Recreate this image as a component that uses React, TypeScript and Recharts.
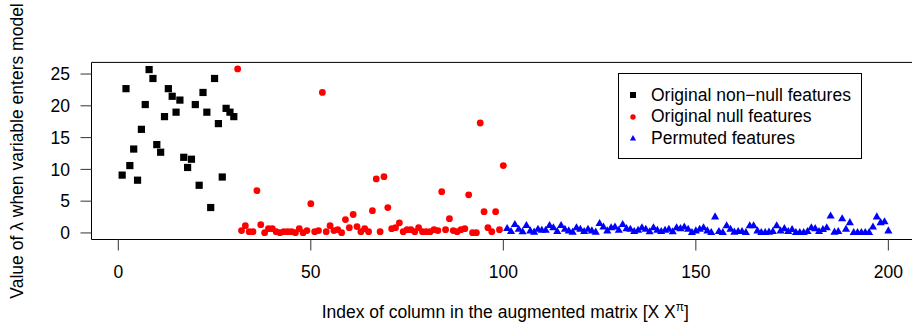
import React from 'react';
import { ScatterChart, Scatter, XAxis, YAxis, ReferenceArea, Legend, Label } from 'recharts';

// lambda at which each column enters the model, columns 1..30
const nonNullLambda = [
  9.1, 22.7, 10.6, 13.2, 8.3, 16.3, 20.2, 25.7, 24.3, 13.9,
  12.7, 18.3, 22.7, 21.5, 19.0, 20.9, 11.9, 10.3, 11.6, 20.2,
  7.5, 22.1, 19.0, 4.0, 24.3, 17.2, 8.8, 19.6, 19.0, 18.3,
];

// columns 31..100
const nullLambda = [
  25.8, 0.37, 1.15, 0.2, 0.2, 6.65, 1.3, 0.05, 0.68, 0.68,
  0.2, 0.05, 0.2, 0.2, 0.2, 0.05, 0.68, 0.05, 0.37, 4.6,
  0.2, 0.37, 22.1, 0.2, 1.15, 0.37, 0.52, 0.05, 2.1, 0.83,
  2.9, 1.0, 0.2, 0.68, 0.2, 3.5, 8.5, 0.2, 8.85, 4.0,
  0.68, 0.83, 1.6, 0.2, 0.52, 0.52, 0.2, 0.83, 0.2, 0.2,
  0.2, 0.52, 0.37, 6.5, 0.52, 2.25, 0.37, 0.2, 0.52, 0.68,
  6.0, 0.05, 0.05, 17.3, 3.35, 0.83, 0.2, 3.35, 0.52, 10.6,
];

// columns 101..200
const permutedLambda = [
  0.66, 0.2, 1.3, 0.55, 0.15, 1.15, 0.3, 0.1, 0.55, 0.4,
  0.4, 1.15, 0.8, 0.2, 1.15, 0.55, 0.3, 0.1, 0.8, 0.55,
  0.2, 0.55, 0.3, 0.1, 1.45, 0.9, 0.3, 0.8, 0.9, 0.4,
  1.3, 0.65, 0.55, 0.2, 0.4, 0.8, 0.55, 0.15, 0.8, 0.4,
  0.2, 0.4, 0.55, 0.15, 0.8, 0.65, 0.9, 0.55, 0.05, 0.3,
  0.55, 0.8, 0.3, 0.05, 2.5, 0.2, 0.05, 1.1, 0.55, 0.1,
  0.2, 0.2, 0.05, 1.1, 1.1, 0.3, 0.05, 0.05, 0.1, 0.2,
  1.1, 0.3, 0.65, 0.2, 0.5, 0.05, 0.05, 0.05, 0.2, 0.8,
  0.65, 0.2, 0.5, 0.8, 2.65, 0.1, 0.2, 2.2, 0.55, 1.6,
  0.05, 0.05, 0.05, 0.05, 0.05, 0.9, 2.5, 1.6, 1.75, 0.3,
];

const xTicks = [0, 50, 100, 150, 200];
const yTicks = [0, 5, 10, 15, 20, 25];
const xDomain = [-6.96, 207.96];
const yDomain = [-1.03, 26.83];

const seriesNames = ['Original non\u2212null features', 'Original null features', 'Permuted features'];

const FONT = '"Liberation Sans", Arial, Helvetica, sans-serif';
const FS = 17.5;

const toPoints = (values: number[], first: number) => values.map((y, i) => ({ x: first + i, y }));

const nonNullData = toPoints(nonNullLambda, 1);
const nullData = toPoints(nullLambda, nonNullLambda.length + 1);
const permutedData = toPoints(permutedLambda, nonNullLambda.length + nullLambda.length + 1);

const triPoints = (cx: number, cy: number, r: number) =>
  `${cx},${cy - r} ${cx - r * 0.866},${cy + r / 2} ${cx + r * 0.866},${cy + r / 2}`;

const SquareDot = ({ cx, cy }: any) => (
  <rect x={cx - 3.6} y={cy - 3.6} width={7.2} height={7.2} fill="#000" />
);
const RoundDot = ({ cx, cy }: any) => <circle cx={cx} cy={cy} r={3.4} fill="#ff0000" />;
const TriangleDot = ({ cx, cy }: any) => <polygon points={triPoints(cx, cy, 4.7)} fill="#0000ff" />;

const legendMarkers = [
  <rect key="s" x={2} y={2} width={6} height={6} fill="#000" />,
  <circle key="c" cx={5} cy={5} r={2.7} fill="#ff0000" />,
  <polygon key="t" points={triPoints(5, 5.6, 3.6)} fill="#0000ff" />,
];

const LegendBox = () => (
  <div
    style={{
      width: 244,
      height: 86,
      border: '1px solid #000',
      boxSizing: 'border-box',
      background: '#fff',
      position: 'relative',
      fontFamily: FONT,
      fontSize: FS,
      color: '#000',
    }}
  >
    {seriesNames.map((name, i) => (
      <div
        key={name}
        style={{
          position: 'absolute',
          left: 9,
          top: 10.5 + i * 21.5,
          height: 21,
          lineHeight: '21px',
          display: 'flex',
          alignItems: 'center',
          whiteSpace: 'nowrap',
        }}
      >
        <svg width={10} height={10} style={{ marginRight: 13 }}>
          {legendMarkers[i]}
        </svg>
        <span>{name}</span>
      </div>
    ))}
  </div>
);

const XTitle = ({ viewBox }: any) => (
  <text
    x={viewBox.x + viewBox.width / 2}
    y={viewBox.y + 78.5}
    textAnchor="middle"
    fontFamily={FONT}
    fontSize={FS}
    fill="#000"
  >
    Index of column in the augmented matrix [X X
    <tspan dy={-7} fontSize={12}>
      {'\u03c0'}
    </tspan>
    <tspan dy={7}>]</tspan>
  </text>
);

const YTitle = ({ viewBox }: any) => {
  const x = viewBox.x + 23;
  const y = viewBox.y + viewBox.height / 2;
  return (
    <text
      x={x}
      y={y}
      transform={`rotate(-90 ${x} ${y})`}
      textAnchor="middle"
      fontFamily={FONT}
      fontSize={FS}
      fill="#000"
    >
      Value of {'\u03bb'} when variable enters model
    </text>
  );
};

const tickStyle = { fill: '#000', fontSize: FS, fontFamily: FONT };

export default function App() {
  return (
    <div
      style={{
        position: 'absolute',
        left: 0,
        top: 0,
        width: 912,
        height: 328,
        overflow: 'hidden',
        background: '#fff',
      }}
    >
      <ScatterChart width={940} height={328} margin={{ top: 62.4, right: 21, bottom: 0, left: 0 }}>
        <XAxis
          dataKey="x"
          type="number"
          domain={xDomain}
          ticks={xTicks}
          allowDataOverflow
          axisLine={false}
          tickLine={{ stroke: '#333' }}
          tickSize={11}
          tickMargin={15.4}
          tick={tickStyle}
          height={88.5}
        >
          <Label content={XTitle} />
        </XAxis>
        <YAxis
          dataKey="y"
          type="number"
          domain={yDomain}
          ticks={yTicks}
          allowDataOverflow
          axisLine={false}
          tickLine={{ stroke: '#333' }}
          tickSize={11}
          tickMargin={10.5}
          tick={tickStyle}
          width={91.5}
        >
          <Label content={YTitle} />
        </YAxis>
        <ReferenceArea
          x1={xDomain[0]}
          x2={xDomain[1]}
          y1={yDomain[0]}
          y2={yDomain[1]}
          fill="none"
          stroke="#000"
          strokeWidth={1}
          ifOverflow="visible"
        />
        <Scatter name={seriesNames[0]} data={nonNullData} shape={SquareDot} isAnimationActive={false} />
        <Scatter name={seriesNames[1]} data={nullData} shape={RoundDot} isAnimationActive={false} />
        <Scatter name={seriesNames[2]} data={permutedData} shape={TriangleDot} isAnimationActive={false} />
        <Legend
          layout="vertical"
          align="center"
          verticalAlign="middle"
          content={LegendBox}
          wrapperStyle={{ position: 'absolute', left: 618, top: 73, width: 244, height: 86 }}
        />
      </ScatterChart>
    </div>
  );
}
